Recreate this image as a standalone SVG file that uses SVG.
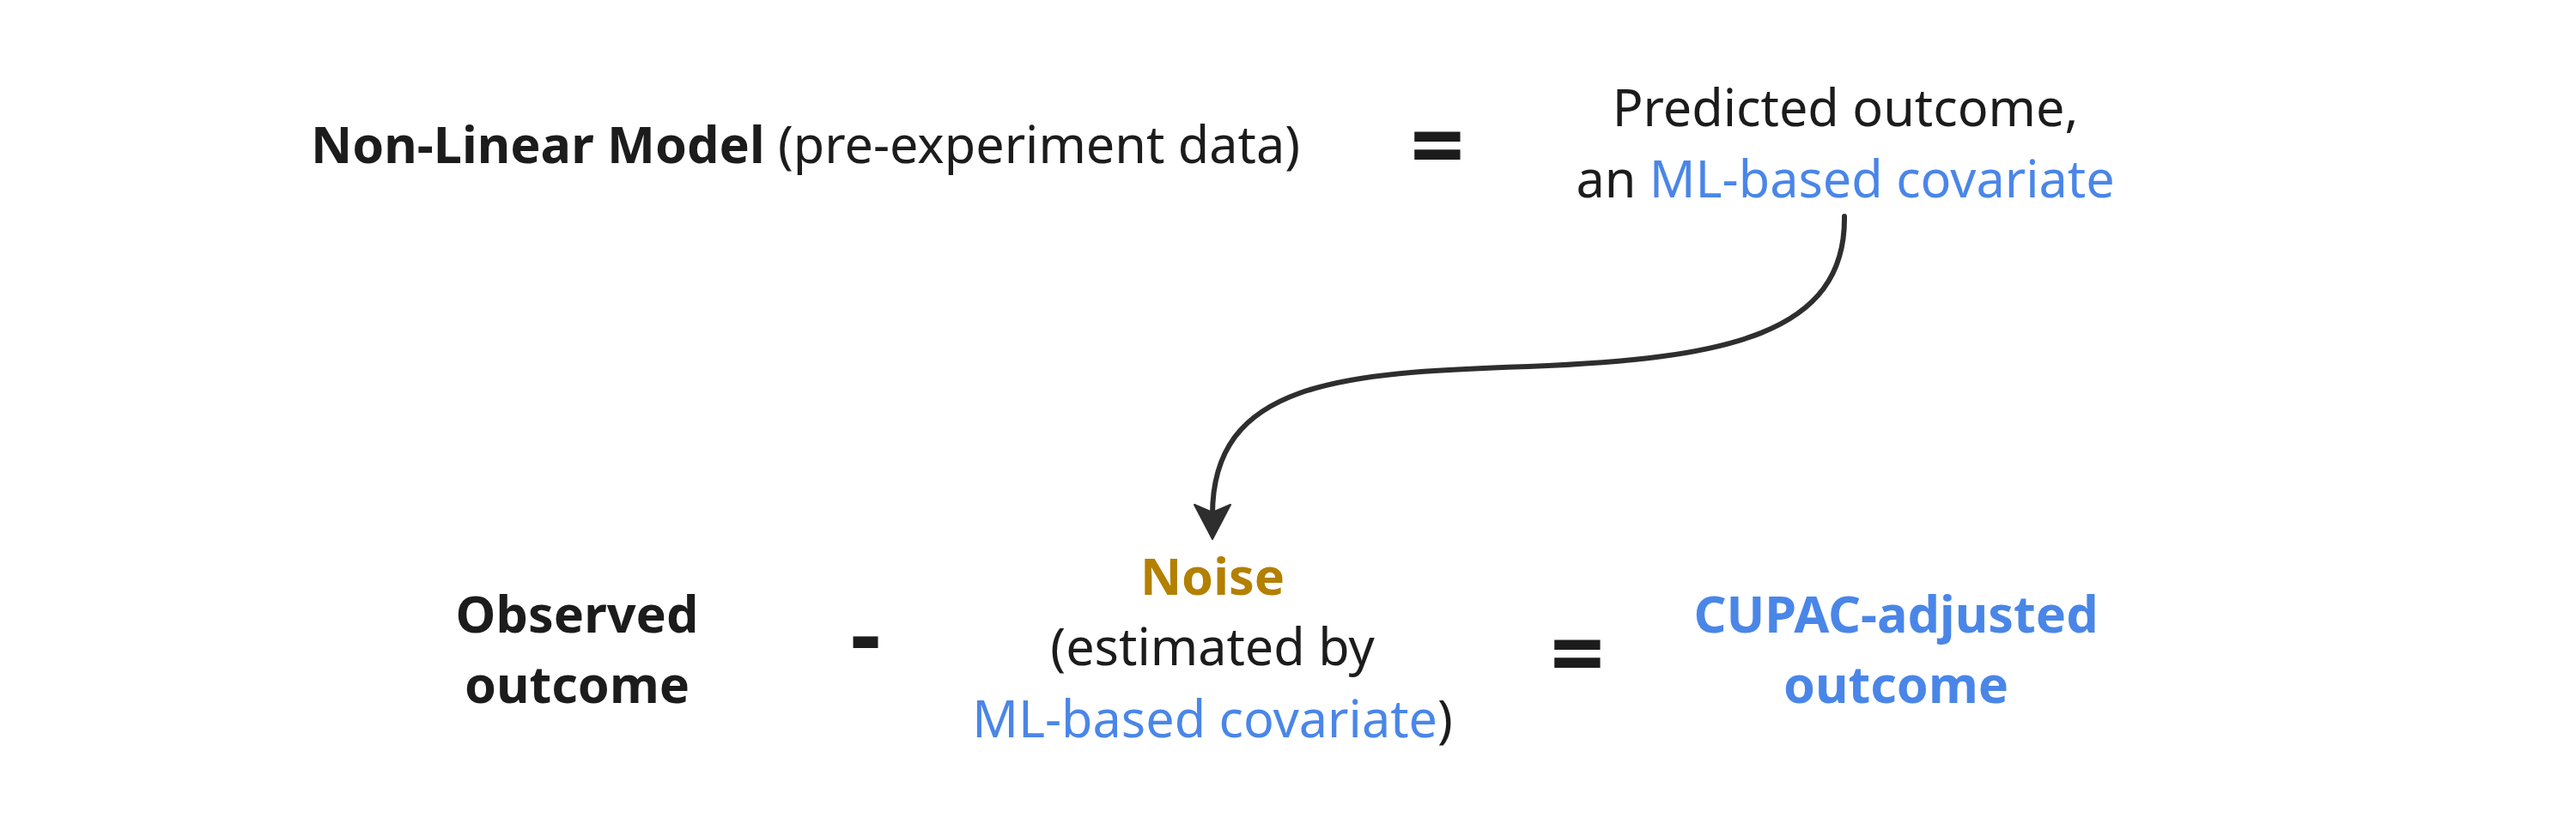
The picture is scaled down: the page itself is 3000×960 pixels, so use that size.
<svg xmlns="http://www.w3.org/2000/svg" width="3000" height="960" viewBox="0 0 3000 960">
<style>
text{font-family:"Noto Sans","Open Sans",sans-serif;font-size:59.3px;fill:#1c1c1c}
.b{font-weight:700}
.blue{fill:#4a86e8}
.gold{fill:#b38000}
.op{font-size:110px;font-weight:700}
.c{text-anchor:middle}
</style>
<rect width="3000" height="960" fill="#ffffff"/>
<g id="connectors">
<path d="M2148 252 C2150 390 2010 418 1780 427 C1560 434 1412 445 1412 600" fill="none" stroke="#2e2e2e" stroke-width="6" stroke-linecap="round"/>
<path d="M1391 588 L1412 628 L1433 588 L1412 597 Z" fill="#2e2e2e" stroke="#2e2e2e" stroke-width="2" stroke-linejoin="round"/>
</g>
<g id="model">
<text x="362" y="190"><tspan class="b">Non-Linear Model</tspan> (pre-experiment data)</text>
</g>
<g id="eq-top"><text class="op c" x="1674" y="208">=</text></g>
<g id="predicted">
<text class="c" x="2149" y="147">Predicted outcome,</text>
<text class="c" x="2149" y="230">an <tspan class="blue">ML-based covariate</tspan></text>
</g>
<g id="observed">
<text class="b c" x="672" y="737">Observed</text>
<text class="b c" x="672" y="819">outcome</text>
</g>
<g id="minus"><text class="op c" x="1008" y="778">-</text></g>
<g id="noise">
<text class="b c gold" x="1412" y="693">Noise</text>
<text class="c" x="1412" y="775">(estimated by</text>
<text class="c" x="1412" y="859"><tspan class="blue">ML-based covariate</tspan>)</text>
</g>
<g id="eq-bottom"><text class="op c" x="1837" y="800">=</text></g>
<g id="cupac">
<text class="b c blue" x="2208" y="737">CUPAC-adjusted</text>
<text class="b c blue" x="2208" y="819">outcome</text>
</g>
</svg>
